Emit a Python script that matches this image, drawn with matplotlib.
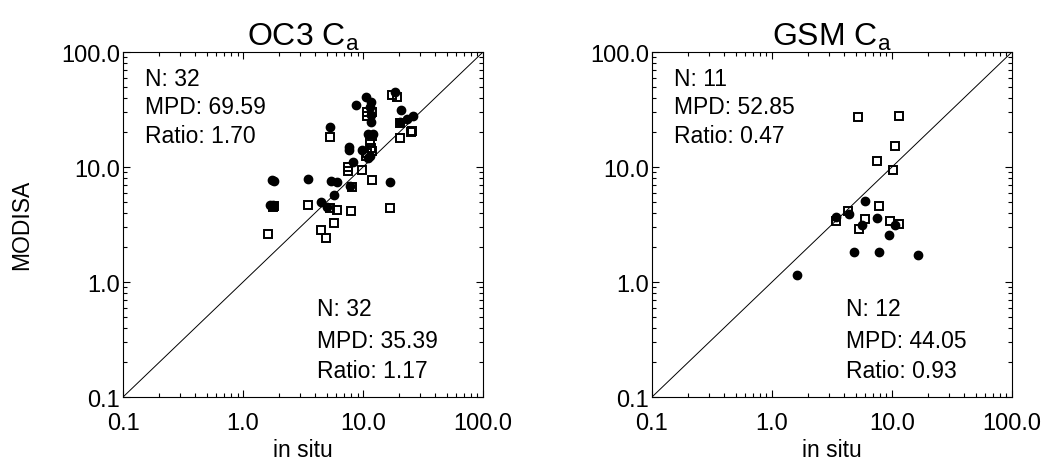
import matplotlib
matplotlib.use("Agg")
import matplotlib.pyplot as plt
from matplotlib.ticker import FixedLocator, FixedFormatter, LogLocator, NullFormatter

plt.rcParams['font.family'] = ['Liberation Sans', 'DejaVu Sans']
plt.rcParams['mathtext.fontset'] = 'custom'
plt.rcParams['mathtext.rm'] = 'Liberation Sans'
plt.rcParams['mathtext.it'] = 'Liberation Sans:italic'

# OC3 panel
oc3_circ_x = [10.6, 11.7, 8.7, 18.5, 20.7, 23.1, 26.2, 20.3, 5.3, 11.6, 11.6, 11.1, 12.1,
              7.7, 7.6, 9.76, 11.5, 11.0, 8.2, 1.75, 1.8, 3.46, 5.38, 6.04, 16.8,
              7.8, 5.76, 4.44, 1.68, 1.78, 4.98, 11.4]
oc3_circ_y = [40.4, 37.0, 34.6, 44.7, 31.5, 26.1, 27.6, 24.5, 22.4, 28.3, 24.5, 19.4, 19.4,
              14.8, 14.2, 14.1, 12.5, 12.0, 11.0, 7.7, 7.6, 7.87, 7.6, 7.36, 7.36,
              6.87, 5.71, 4.93, 4.7, 4.7, 4.47, 33.0]
oc3_sq_x = [17.5, 19.1, 10.7, 11.8, 10.8, 5.3, 20.3, 25.5, 24.9, 20.3, 11.8, 11.5, 11.8,
            10.6, 7.55, 7.55, 9.76, 12.0, 8.15, 1.77, 3.46, 5.3, 6.1, 7.94, 16.8,
            1.63, 4.44, 5.73, 4.92, 11.6, 10.9, 1.8]
oc3_sq_y = [42.6, 40.4, 27.9, 29.9, 29.9, 18.1, 24.0, 20.7, 20.0, 17.9, 18.7, 16.6, 13.9,
            12.5, 10.0, 9.18, 9.42, 7.76, 6.7, 4.52, 4.68, 4.4, 4.23, 4.12, 4.38,
            2.61, 2.83, 3.26, 2.42, 14.5, 13.2, 4.6]

# GSM panel
gsm_circ_x = [5.96, 3.42, 4.36, 5.59, 7.55, 10.6, 9.5, 4.82, 7.75, 16.4, 1.61]
gsm_circ_y = [5.09, 3.7, 3.9, 3.13, 3.6, 3.15, 2.56, 1.83, 1.81, 1.72, 1.15]
gsm_sq_x = [5.23, 11.5, 10.6, 7.55, 10.3, 7.8, 4.32, 3.42, 5.96, 5.34, 9.62, 11.5]
gsm_sq_y = [27.0, 27.9, 15.1, 11.2, 9.42, 4.61, 4.17, 3.37, 3.53, 2.89, 3.37, 3.19]

titles = [r'OC3 C$_\mathrm{a}$', r'GSM C$_\mathrm{a}$']
stats_top = [["N: 32", "MPD: 69.59", "Ratio: 1.70"], ["N: 11", "MPD: 52.85", "Ratio: 0.47"]]
stats_bot = [["N: 32", "MPD: 35.39", "Ratio: 1.17"], ["N: 12", "MPD: 44.05", "Ratio: 0.93"]]
tick_vals = [0.1, 1, 10, 100]
tick_labels = ["0.1", "1.0", "10.0", "100.0"]

fig = plt.figure(figsize=(10.47, 4.64), dpi=100)
ax1 = fig.add_axes([0.1175, 0.1422, 0.3438, 0.7435])
ax2 = fig.add_axes([0.6227, 0.1422, 0.3438, 0.7435])

panels = [(ax1, oc3_circ_x, oc3_circ_y, oc3_sq_x, oc3_sq_y),
          (ax2, gsm_circ_x, gsm_circ_y, gsm_sq_x, gsm_sq_y)]

for i, (ax, cx, cy, sx, sy) in enumerate(panels):
    ax.set_xscale('log')
    ax.set_yscale('log')
    ax.set_xlim(0.1, 100)
    ax.set_ylim(0.1, 100)
    ax.plot([0.1, 100], [0.1, 100], color='black', linewidth=0.7)
    ax.plot(cx, cy, 'o', color='black', markersize=6, linestyle='none')
    ax.plot(sx, sy, 's', color='black', fillstyle='none', markersize=5.4,
            markeredgewidth=1.4, linestyle='none')

    for axis in (ax.xaxis, ax.yaxis):
        axis.set_major_locator(FixedLocator(tick_vals))
        axis.set_major_formatter(FixedFormatter(tick_labels))
        axis.set_minor_locator(LogLocator(base=10, subs=range(2, 10)))
        axis.set_minor_formatter(NullFormatter())
    ax.tick_params(which='both', direction='in', top=True, right=True, labelsize=17)
    ax.tick_params(which='major', length=5, width=0.8)
    ax.tick_params(which='minor', length=2.8, width=0.8)
    ax.tick_params(axis='x', pad=11)
    ax.tick_params(axis='y', pad=2)
    for sp in ax.spines.values():
        sp.set_linewidth(0.8)

    ax.set_title(titles[i], fontsize=23, pad=4)
    ax.set_xlabel("in situ", fontsize=16.5, labelpad=3)

    for k, (yt, yb) in enumerate(zip([0.922, 0.841, 0.757], [0.258, 0.165, 0.078])):
        ax.text(0.06, yt, stats_top[i][k], transform=ax.transAxes, fontsize=16.5, va='center', ha='left')
        ax.text(0.538, yb, stats_bot[i][k], transform=ax.transAxes, fontsize=16.5, va='center', ha='left')

fig.text(0.021, 0.515, "MODISA", rotation=90, fontsize=16.5, va='center', ha='center')

fig.savefig("out.png", dpi=100)
